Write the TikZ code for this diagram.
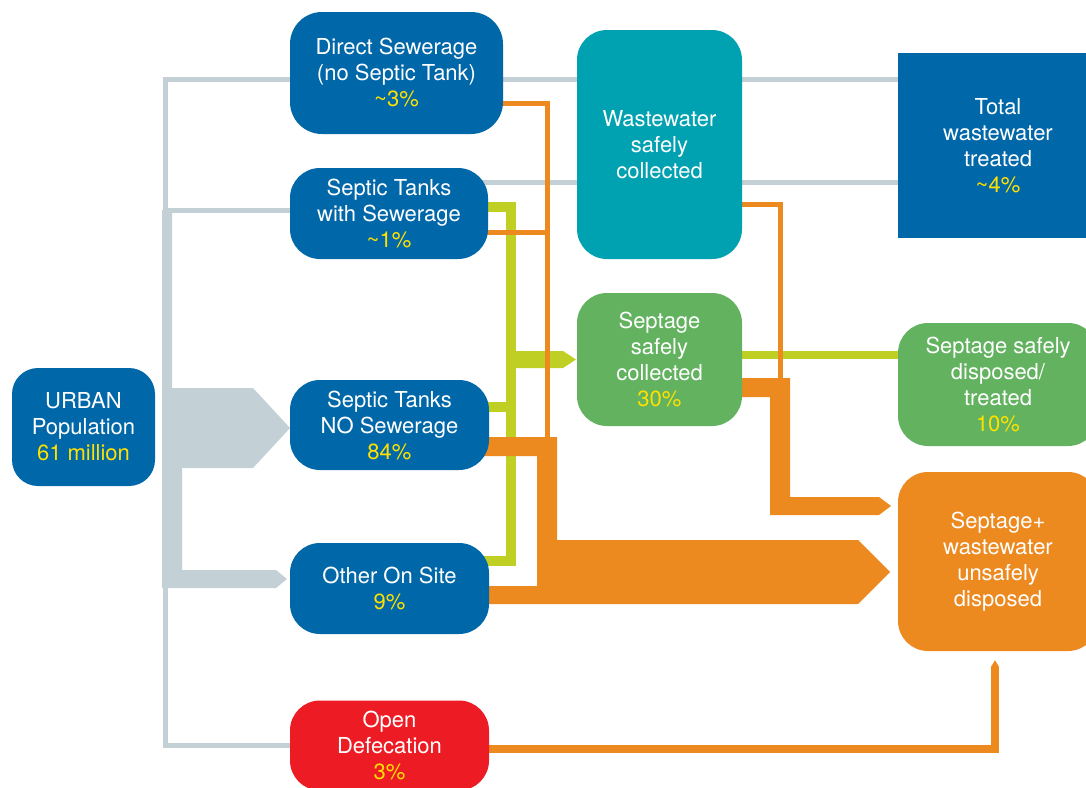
\documentclass[tikz,border=0pt]{standalone}
\usepackage{fontspec}
\setmainfont{TeX Gyre Heros}
\usetikzlibrary{calc}
\usetikzlibrary{backgrounds}
\usetikzlibrary{arrows.meta}

\definecolor{sanblue}{RGB}{0,103,168}
\definecolor{santeal}{RGB}{0,161,176}
\definecolor{sangreen}{RGB}{98,178,96}
\definecolor{sanorange}{RGB}{236,137,31}
\definecolor{sanred}{RGB}{237,28,36}
\definecolor{sangray}{RGB}{195,209,214}
\definecolor{sanlime}{RGB}{192,207,35}
\definecolor{pctyellow}{RGB}{255,225,0}

\newcommand{\pct}[1]{\textcolor{pctyellow}{#1}}

\tikzset{
    flowbox/.style={rounded corners=30pt, align=center, text=white, inner sep=0pt,
        font=\fontsize{22}{26}\selectfont},
    grayline/.style={draw=sangray, line width=5pt},
    orangeline/.style={draw=sanorange, line width=5pt},
    limeline/.style={draw=sanlime, line width=10pt},
}

\begin{document}
\begin{tikzpicture}[x=1pt, y=-1pt]

    \useasboundingbox (0, 0) rectangle (1086, 787);
    \clip (0, 0) rectangle (1086, 787);

    % sources
    \node[flowbox, fill=sanblue, minimum width=143pt, minimum height=118pt, rounded corners=26pt] (urban) at (83.5, 427) {URBAN\\Population\\\pct{61 million}};
    \node[flowbox, fill=sanblue, minimum width=213pt, minimum height=122pt, rounded corners=32pt] (direct) at (396.5, 73) {Direct Sewerage\\(no Septic Tank)\\\pct{\textasciitilde3\%}};
    \node[flowbox, fill=sanblue, minimum width=198pt, minimum height=91pt] (stsew) at (389, 213.5) {Septic Tanks\\with Sewerage\\\pct{\textasciitilde1\%}};
    \node[flowbox, fill=sanblue, minimum width=199pt, minimum height=90pt] (stno) at (389.5, 425) {Septic Tanks\\NO Sewerage\\\pct{84\%}};
    \node[flowbox, fill=sanblue, minimum width=199pt, minimum height=91pt] (other) at (389.5, 588.5) {Other On Site\\\pct{9\%}};
    \node[flowbox, fill=sanred, minimum width=199pt, minimum height=90pt] (open) at (389.5, 745.5) {Open\\Defecation\\\pct{3\%}};

    % collection
    \node[flowbox, fill=santeal, minimum width=165pt, minimum height=229pt] (wwc) at (659.5, 144.5) {Wastewater\\safely\\collected};
    \node[flowbox, fill=sangreen, minimum width=165pt, minimum height=133pt] (ssc) at (659.5, 359.5) {Septage\\safely\\collected\\\pct{30\%}};

    % outcomes
    \node[flowbox, fill=sanblue, sharp corners, minimum width=200pt, minimum height=185pt] (total) at (998, 145.5) {Total\\wastewater\\treated\\\pct{\textasciitilde4\%}};
    \node[flowbox, fill=sangreen, minimum width=200pt, minimum height=123pt] (ssd) at (998, 384.5) {Septage safely\\disposed/\\treated\\\pct{10\%}};
    \node[flowbox, fill=sanorange, minimum width=200pt, minimum height=179pt] (unsafe) at (998, 561.5) {Septage+\\wastewater\\unsafely\\disposed};

    \begin{scope}[on background layer]
        % population split
        \draw[grayline] ($(direct.center)+(0, 6)$) -| (165, 745.5) -- (open.center);
        \draw[grayline] ($(stsew.center)+(0, -3.5)$) -- (165, 210);
        \fill[sangray] (162, 210) -- (172, 210) -- (172, 388) -- (253, 388) -- (290, 428) -- (253, 468)
            -- (182, 468) -- (182, 570) -- (276, 570) -- (287, 579) -- (276, 588) -- (162, 588) -- cycle;
        \draw[grayline] ($(direct.center)+(0, 6)$) -- ($(total.center)+(0, -66.5)$);
        \draw[grayline] ($(stsew.center)+(0, -31.5)$) -- ($(total.center)+(0, 36.5)$);

        % septage to collection
        \draw[limeline] ($(stsew.center)+(0, -7)$) -| (511, 560.5) -- ($(other.center)+(0, -28)$);
        \draw[limeline] ($(stno.center)+(0, -18.5)$) -- (511, 406.5);
        \fill[sanlime] (506, 351) -- (563, 351) -- (576, 359.5) -- (563, 368) -- (506, 368) -- cycle;
        \draw[limeline, line width=8pt] ($(ssc.center)+(0, -4.5)$) -- ($(ssd.center)+(0, -29.5)$);

        % unsafe flows
        \draw[orangeline] ($(direct.center)+(0, 30)$) -| (547, 446);
        \draw[orangeline] ($(stsew.center)+(0, 18.5)$) -- (547, 232);
        \draw[orangeline] ($(wwc.center)+(0, 59.5)$) -| (780, 388);
        \fill[sanorange] (440, 437) -- (557, 437) -- (557, 540) -- (858, 540) -- (890, 572) -- (858, 604)
            -- (440, 604) -- (440, 586) -- (537, 586) -- (537, 456) -- (440, 456) -- cycle;
        \fill[sanorange] (700, 378) -- (790, 378) -- (790, 497) -- (879, 497) -- (891, 506) -- (879, 515)
            -- (770, 515) -- (770, 397) -- (700, 397) -- cycle;
        \draw[orangeline, line width=8pt, -{Triangle[width=8pt, length=7pt]}] ($(open.center)+(0, 3)$) -| ($(unsafe.south)+(-3, 9)$);
    \end{scope}

\end{tikzpicture}
\end{document}
